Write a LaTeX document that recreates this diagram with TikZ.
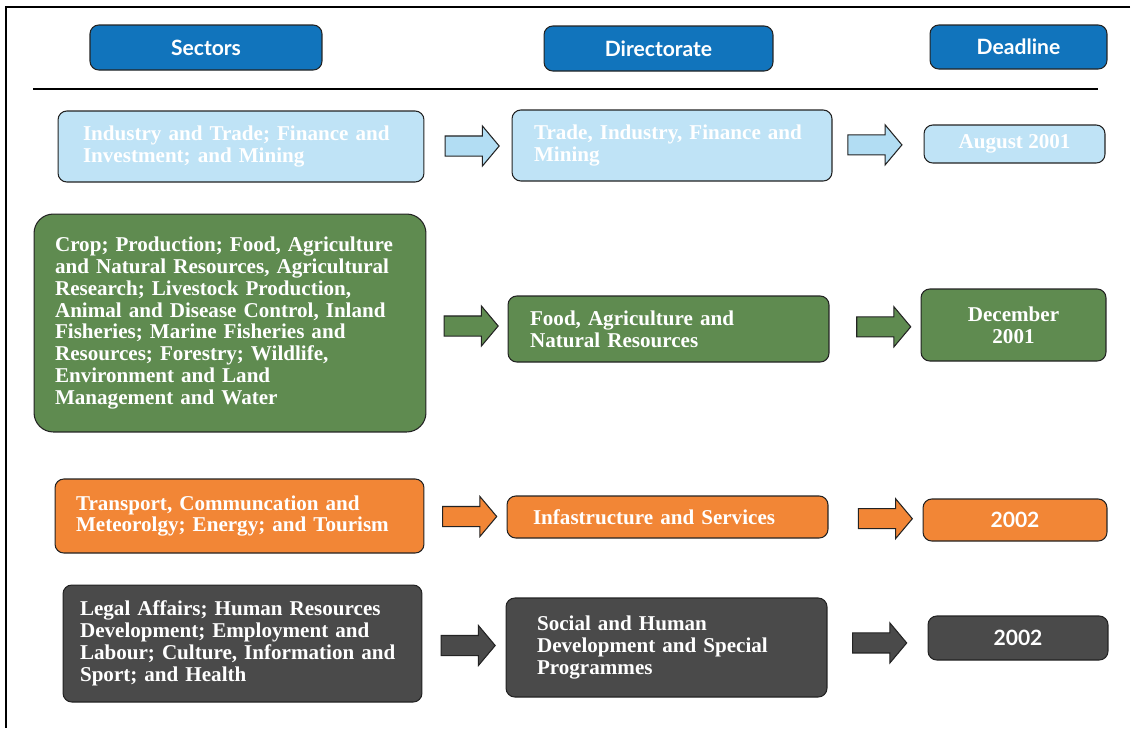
\documentclass[tikz,border=0pt]{standalone}
\usepackage{fontspec}
\setmainfont{Liberation Serif}
\newfontfamily\hdrfont{Lato}
\usetikzlibrary{shapes.arrows,calc}

\definecolor{hdrblue}{RGB}{17,116,188}
\definecolor{paleblue}{RGB}{191,227,246}
\definecolor{arrblue}{RGB}{178,221,243}
\definecolor{leafgreen}{RGB}{95,139,80}
\definecolor{rustorange}{RGB}{242,134,54}
\definecolor{slategrey}{RGB}{74,74,74}
\definecolor{edgegrey}{RGB}{35,35,35}

\tikzset{
    box/.style = {draw = edgegrey, line width = 0.6pt, rounded corners = 5pt, text = white,
        font = \bfseries\fontsize{12}{12.5}\selectfont, inner ysep = 0pt},
    hdr/.style = {box, fill = hdrblue, font = \hdrfont\bfseries\fontsize{12}{14}\selectfont},
    lbox/.style = {box, align = left},
    cbox/.style = {box, align = center},
    blockarrow/.style = {single arrow, draw = edgegrey, line width = 0.6pt,
        minimum height = 1.08cm, minimum width = 0pt, inner xsep = 0pt, inner ysep = 0.19cm,
        single arrow head extend = 0.2cm, single arrow tip angle = 100}
}

\begin{document}
\begin{tikzpicture}[x = 0.02cm, y = -0.02cm]
    \useasboundingbox (0, 0) rectangle (1132, 728);
    \draw[line width = 0.6pt] (1130, 7) -- (6, 7) -- (6, 728);
    \draw[line width = 0.6pt] (33, 89) -- (1098, 89);

    \node[hdr, minimum width = 4.64cm, minimum height = 0.9cm] (sec) at (206, 47.5) {Sectors};
    \node[hdr, minimum width = 4.58cm, minimum height = 0.9cm] (dir) at (658.5, 48.5) {Directorate};
    \node[hdr, minimum width = 3.54cm, minimum height = 0.88cm] (dead) at (1018.5, 47) {Deadline};

    \node[lbox, fill = paleblue, text width = 6.32cm, inner xsep = 0.50cm, minimum height = 1.42cm] (s1) at (241, 146.5)
        {Industry and Trade; Finance and\\ Investment; and Mining};
    \node[lbox, fill = paleblue, text width = 5.52cm, inner xsep = 0.44cm, minimum height = 1.42cm] (d1) at (672, 145.5)
        {Trade, Industry, Finance and\\ Mining};
    \node[cbox, fill = paleblue, minimum width = 3.62cm, minimum height = 0.76cm] (t1) at (1014.5, 144) {August 2001};

    \node[lbox, fill = leafgreen, rounded corners = 11pt, text width = 7.00cm, inner xsep = 0.42cm, minimum height = 4.36cm] (s2) at (230, 323)
        {Crop; Production; Food, Agriculture\\ and Natural Resources, Agricultural\\ Research; Livestock Production,\\
         Animal and Disease Control, Inland\\ Fisheries; Marine Fisheries and\\ Resources; Forestry; Wildlife,\\
         Environment and Land\\ Management and Water};
    \node[lbox, fill = leafgreen, text width = 5.54cm, inner xsep = 0.44cm, minimum height = 1.32cm] (d2) at (668.5, 329)
        {Food, Agriculture and\\ Natural Resources};
    \node[cbox, fill = leafgreen, minimum width = 3.70cm, minimum height = 1.44cm] (t2) at (1013.5, 325) {December\\ 2001};

    \node[lbox, fill = rustorange, text width = 6.54cm, inner xsep = 0.42cm, minimum height = 1.48cm] (s3) at (239.5, 516)
        {Transport, Communcation and\\ Meteorolgy; Energy; and Tourism};
    \node[lbox, fill = rustorange, text width = 5.38cm, inner xsep = 0.52cm, minimum height = 0.84cm] (d3) at (667.5, 517)
        {Infastructure and Services};
    \node[cbox, fill = rustorange, font = \hdrfont\bfseries\fontsize{12}{14}\selectfont, minimum width = 3.68cm, minimum height = 0.84cm] (t3) at (1015, 520) {2002};

    \node[lbox, fill = slategrey, text width = 6.50cm, inner xsep = 0.34cm, minimum height = 2.34cm] (s4) at (242.5, 643.5)
        {Legal Affairs; Human Resources\\ Development; Employment and\\ Labour; Culture, Information and\\ Sport; and Health};
    \node[lbox, fill = slategrey, text width = 5.18cm, inner xsep = 0.62cm, minimum height = 1.98cm] (d4) at (666.5, 647.5)
        {Social and Human\\ Development and Special\\ Programmes};
    \node[cbox, fill = slategrey, font = \hdrfont\bfseries\fontsize{12}{14}\selectfont, minimum width = 3.60cm, minimum height = 0.88cm] (t4) at (1018, 638) {2002};

    \node[blockarrow, fill = arrblue] (a1) at ($(s1.east)!0.5!(d1.west)$) {};
    \node[blockarrow, fill = arrblue] (b1) at ($(d1.east)!0.42!(t1.west)$) {};
    \node[blockarrow, fill = leafgreen] (a2) at ($(s2.east)!0.5!(d2.west)$) {};
    \node[blockarrow, fill = leafgreen] (b2) at ($(d2.east)!0.55!(t2.west)$) {};
    \node[blockarrow, fill = rustorange] (a3) at ($(s3.east)!0.5!(d3.west)$) {};
    \node[blockarrow, fill = rustorange] (b3) at ($(d3.east)!0.56!(t3.west)$) {};
    \node[blockarrow, fill = slategrey] (a4) at ($(s4.east)!0.5!(d4.west)$) {};
    \node[blockarrow, fill = slategrey] (b4) at ($(d4.east)!0.48!(t4.west)$) {};
\end{tikzpicture}
\end{document}
